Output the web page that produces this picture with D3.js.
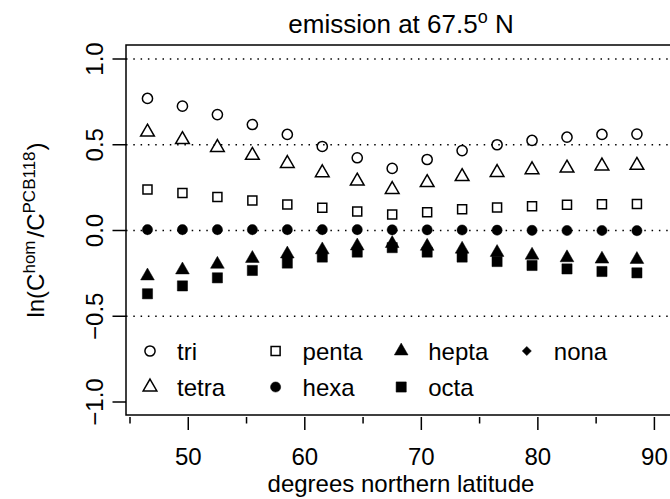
<!DOCTYPE html>
<html>
<head>
<meta charset="utf-8">
<script src="https://cdn.jsdelivr.net/npm/d3@7/dist/d3.min.js"></script>
<style>
  body { margin: 0; background: #fff; }
  text { font-family: "Liberation Sans", Arial, Helvetica, sans-serif; fill: #000; }
</style>
</head>
<body>
<script>
// chart.js

const width = 670;
const height = 499;

// latitude of each point (degrees N)
const lat = [46.5, 49.5, 52.5, 55.5, 58.5, 61.5, 64.5, 67.5, 70.5, 73.5, 76.5, 79.5, 82.5, 85.5, 88.5];

// ln(C_hom / C_PCB118) per homologue
const tri   = [0.770, 0.725, 0.676, 0.618, 0.560, 0.490, 0.424, 0.362, 0.414, 0.466, 0.500, 0.525, 0.544, 0.560, 0.562];
const tetra = [0.574, 0.530, 0.484, 0.438, 0.391, 0.337, 0.288, 0.239, 0.279, 0.314, 0.338, 0.354, 0.364, 0.376, 0.380];
const penta = [0.239, 0.218, 0.196, 0.175, 0.152, 0.132, 0.111, 0.093, 0.107, 0.124, 0.134, 0.142, 0.150, 0.153, 0.155];
const hexa  = [0.005, 0.005, 0.005, 0.005, 0.005, 0.005, 0.005, 0.004, 0.004, 0.003, 0.002, 0.001, 0.000, 0.000, -0.001];
const hepta = [-0.265, -0.230, -0.197, -0.163, -0.137, -0.113, -0.090, -0.076, -0.092, -0.109, -0.128, -0.144, -0.159, -0.167, -0.169];
const octa  = [-0.369, -0.323, -0.276, -0.233, -0.190, -0.155, -0.126, -0.100, -0.126, -0.155, -0.181, -0.204, -0.224, -0.239, -0.247];
const nona  = [0.003, 0.003, 0.003, 0.003, 0.003, 0.003, 0.003, 0.002, 0.002, 0.002, 0.001, 0.000, 0.000, -0.001, -0.001];

const xTicks = [45, 50, 55, 60, 65, 70, 75, 80, 85, 90];
const xLabels = [50, 60, 70, 80, 90];
const yTicks = [-1, -0.5, 0, 0.5, 1];
const gridLines = [-0.5, 0, 0.5, 1];

const series = [
  { name: "tri",   values: tri,   pch: 1 },
  { name: "tetra", values: tetra, pch: 2 },
  { name: "penta", values: penta, pch: 0 },
  { name: "hexa",  values: hexa,  pch: 16 },
  { name: "hepta", values: hepta, pch: 17 },
  { name: "octa",  values: octa,  pch: 15 },
  { name: "nona",  values: nona,  pch: 18 }
];

// plot box
const box = { left: 126, top: 45, right: 676, bottom: 415 };

const x = d3.scaleLinear().domain([45, 90]).range([130, 654.4]);
const y = d3.scaleLinear().domain([-1, 1]).range([402, 59]);

const svg = d3.select("body").append("svg")
  .attr("width", width)
  .attr("height", height)
  .style("display", "block");

// R-like plotting symbols
const U = 5.09;   // symbol radius unit
function symbolPath(pch) {
  if (pch === 1 || pch === 16) {
    const r = U;
    return `M${-r},0A${r},${r} 0 1,0 ${r},0A${r},${r} 0 1,0 ${-r},0Z`;
  }
  if (pch === 0) {
    const h = U * 0.886;
    return `M${-h},${-h}H${h}V${h}H${-h}Z`;
  }
  if (pch === 15) {
    const h = U;
    return `M${-h},${-h}H${h}V${h}H${-h}Z`;
  }
  if (pch === 2 || pch === 17) {
    const xc = U * 1.347, r = U * 1.555, yc = U * 0.778;
    return `M0,${-r}L${xc},${yc}L${-xc},${yc}Z`;
  }
  if (pch === 18) {
    const d = U * 0.9;
    return `M0,${-d}L${d},0L0,${d}L${-d},0Z`;
  }
  return "";
}
const filled = pch => pch >= 15;

function drawSymbol(g, pch) {
  g.append("path")
    .attr("d", symbolPath(pch))
    .attr("fill", filled(pch) ? "#000" : "none")
    .attr("stroke", "#000")
    .attr("stroke-width", filled(pch) ? 0.5 : 1.5)
    .attr("stroke-linejoin", "miter");
}

// dotted reference lines
svg.append("g")
  .selectAll("line")
  .data(gridLines)
  .enter().append("line")
  .attr("x1", box.left)
  .attr("x2", box.right)
  .attr("y1", d => y(d))
  .attr("y2", d => y(d))
  .attr("stroke", "#000")
  .attr("stroke-width", 1.5)
  .attr("stroke-dasharray", "1.5,5.8");

// points
series.forEach(s => {
  const g = svg.append("g").attr("class", s.name);
  s.values.forEach((v, i) => {
    const p = g.append("g").attr("transform", `translate(${x(lat[i])},${y(v)})`);
    drawSymbol(p, s.pch);
  });
});

// box (right side lies outside the picture)
svg.append("path")
  .attr("d", `M${box.right},${box.top}H${box.left}V${box.bottom}H${box.right}`)
  .attr("fill", "none")
  .attr("stroke", "#000")
  .attr("stroke-width", 1.5);

// y axis
const yAxis = svg.append("g");
yAxis.selectAll("line")
  .data(yTicks)
  .enter().append("line")
  .attr("x1", box.left)
  .attr("x2", box.left - 13.5)
  .attr("y1", d => y(d))
  .attr("y2", d => y(d))
  .attr("stroke", "#000")
  .attr("stroke-width", 1.5);
yAxis.selectAll("text")
  .data(yTicks)
  .enter().append("text")
  .attr("transform", d => `translate(${box.left - 23},${y(d)}) rotate(-90)`)
  .attr("text-anchor", "middle")
  .style("font-size", "24px")
  .text(d => d3.format(".1f")(d).replace("-", "\u2212"));

// x axis
const xAxis = svg.append("g");
xAxis.selectAll("line")
  .data(xTicks)
  .enter().append("line")
  .attr("x1", d => x(d))
  .attr("x2", d => x(d))
  .attr("y1", box.bottom + 2)
  .attr("y2", d => box.bottom + 2 + (d % 10 === 0 ? 13 : 6.5))
  .attr("stroke", "#000")
  .attr("stroke-width", 1.5);
xAxis.selectAll("text")
  .data(xLabels)
  .enter().append("text")
  .attr("x", d => x(d))
  .attr("y", 465)
  .attr("text-anchor", "middle")
  .style("font-size", "24px")
  .text(d => d);

// axis titles
svg.append("text")
  .attr("x", (box.left + box.right) / 2)
  .attr("y", 492)
  .attr("text-anchor", "middle")
  .style("font-size", "24px")
  .text("degrees northern latitude");

const ylab = svg.append("text")
  .attr("transform", `translate(44,${(box.top + box.bottom) / 2}) rotate(-90)`)
  .attr("text-anchor", "middle")
  .style("font-size", "24px");
ylab.append("tspan").text("ln(C");
ylab.append("tspan").attr("dy", -9).style("font-size", "17px").text("hom");
ylab.append("tspan").attr("dy", 9).attr("dx", 3).text("/C");
ylab.append("tspan").attr("dy", -9).style("font-size", "17px").text("PCB118");
ylab.append("tspan").attr("dy", 9).attr("dx", 1).text(")");

const title = svg.append("text")
  .attr("x", (box.left + box.right) / 2)
  .attr("y", 33)
  .attr("text-anchor", "middle")
  .style("font-size", "26px");
title.append("tspan").text("emission at 67.5");
title.append("tspan").attr("dy", -10).style("font-size", "18px").text("o");
title.append("tspan").attr("dy", 10).text(" N");

// legend
const legendItems = [
  { name: "tri",   pch: 1,  col: 0, row: 0 },
  { name: "tetra", pch: 2,  col: 0, row: 1 },
  { name: "penta", pch: 0,  col: 1, row: 0 },
  { name: "hexa",  pch: 16, col: 1, row: 1 },
  { name: "hepta", pch: 17, col: 2, row: 0 },
  { name: "octa",  pch: 15, col: 2, row: 1 },
  { name: "nona",  pch: 18, col: 3, row: 0 }
];
const legend = svg.append("g");
legendItems.forEach(d => {
  const lx = 150 + d.col * 125.6;
  const ly = 351 + d.row * 36;
  const p = legend.append("g").attr("transform", `translate(${lx},${ly})`);
  drawSymbol(p, d.pch);
  legend.append("text")
    .attr("x", lx + 27)
    .attr("y", ly + 8.5)
    .style("font-size", "24px")
    .text(d.name);
});
</script>
</body>
</html>
